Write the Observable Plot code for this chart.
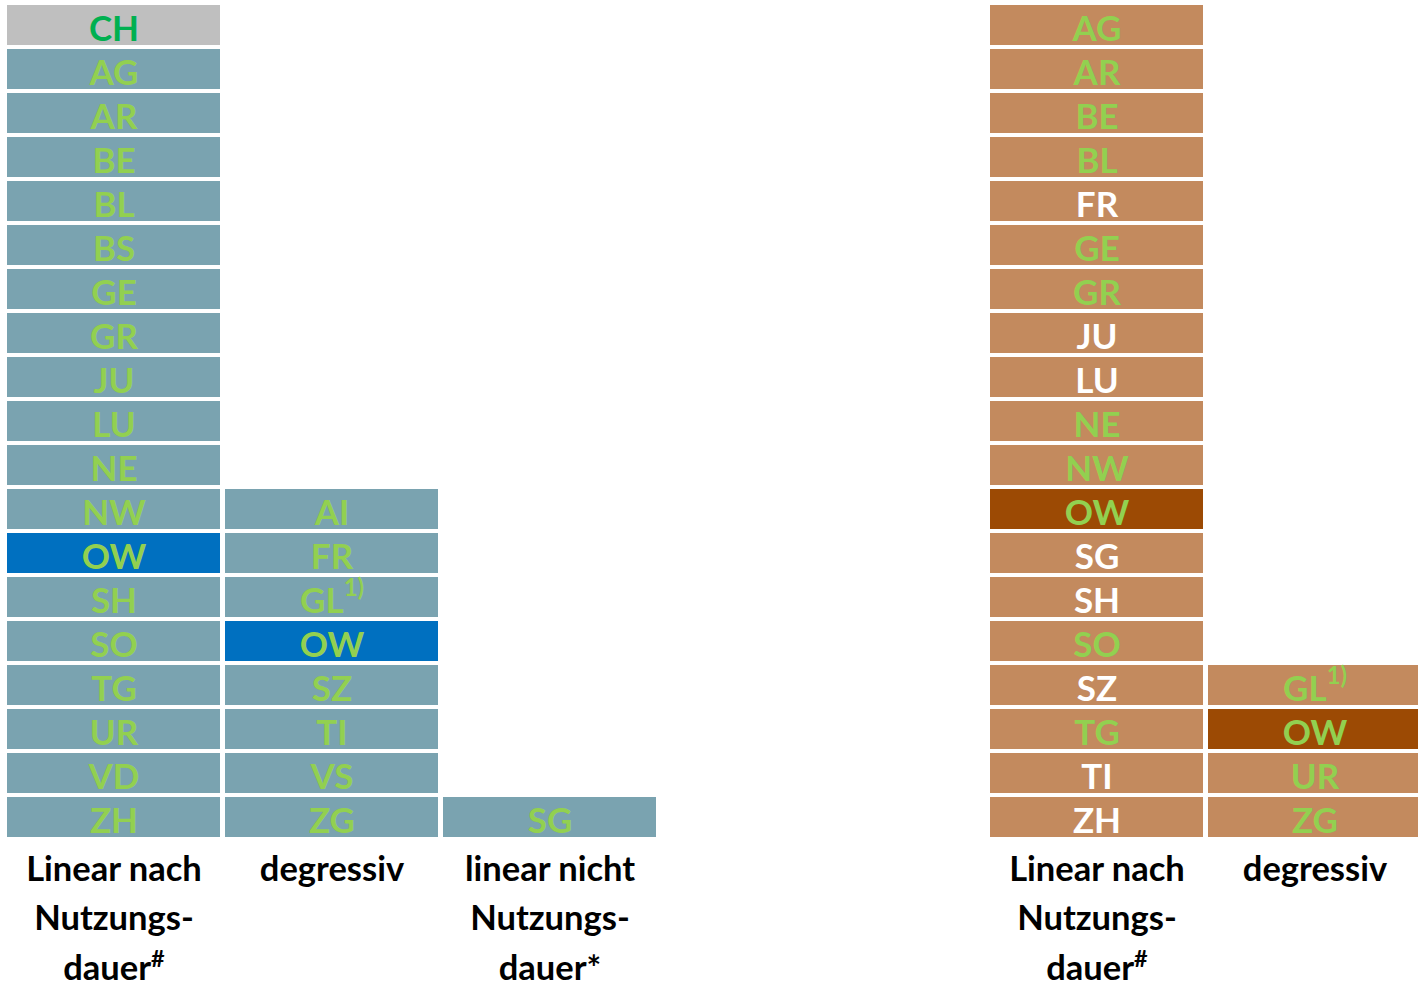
<!DOCTYPE html>
<html>
<head>
<meta charset="utf-8">
<script src="https://cdn.jsdelivr.net/npm/d3@7"></script>
<script src="https://cdn.jsdelivr.net/npm/@observablehq/plot@0.6"></script>
<style>
  html, body { margin: 0; padding: 0; background: #fff; overflow: hidden; }
  #wrap { position: relative; width: 1418px; height: 988px; overflow: hidden; }
  #left, #right { position: absolute; top: 0; }
  #left { left: 0; width: 664px; }
  #right { left: 983px; width: 438px; }
  svg { font-family: Lato, "Open Sans", sans-serif; max-width: none !important; }
</style>
</head>
<body>
<div id="wrap"><div id="left"></div><div id="right"></div></div>
<script>
// ---- Data ----
const leftColumns = ["Linear nach\nNutzungs-\ndauer^#", "degressiv", "linear nicht\nNutzungs-\ndauer*"];
const rightColumns = ["Linear nach\nNutzungs-\ndauer^#", "degressiv"];

const leftLinear = ["CH","AG","AR","BE","BL","BS","GE","GR","JU","LU","NE","NW","OW","SH","SO","TG","UR","VD","ZH"];
const leftDegressiv = ["AI","FR","GL^1)","OW","SZ","TI","VS","ZG"];
const leftLinearNicht = ["SG"];

const rightLinear = ["AG","AR","BE","BL","FR","GE","GR","JU","LU","NE","NW","OW","SG","SH","SO","SZ","TG","TI","ZH"];
const rightDegressiv = ["GL^1)","OW","UR","ZG"];

const rightWhiteText = ["FR","JU","LU","SG","SH","SZ","TI","ZH"];
const ownCanton = "OW";
const total = "CH";
const nRows = 19;

// ---- Colours ----
const C = {
  leftBase: "#7AA3B0", leftOwn: "#0070C0", totalBg: "#BFBFBF",
  rightBase: "#C38A5E", rightOwn: "#9C4A04",
  green: "#92D050", darkGreen: "#00B050", white: "#FFFFFF"
};

function buildCells(columns, lists, side) {
  const cells = [];
  lists.forEach((list, ci) => {
    list.forEach((label, i) => {
      const code = label.split("^")[0];
      let fill, textFill;
      if (side === "left") {
        fill = code === total ? C.totalBg : code === ownCanton ? C.leftOwn : C.leftBase;
        textFill = code === total ? C.darkGreen : C.green;
      } else {
        fill = code === ownCanton ? C.rightOwn : C.rightBase;
        textFill = (ci === 0 && rightWhiteText.includes(code)) ? C.white : C.green;
      }
      cells.push({col: columns[ci], row: nRows - list.length + i, label, fill, textFill});
    });
  });
  return cells;
}

function superscripts(svg) {
  svg.querySelectorAll("text, tspan").forEach(el => {
    for (const node of [...el.childNodes]) {
      if (node.nodeType === 3 && node.nodeValue.includes("^")) {
        const [base, sup] = node.nodeValue.split("^");
        node.nodeValue = base;
        const t = document.createElementNS("http://www.w3.org/2000/svg", "tspan");
        t.setAttribute("font-size", "0.68em");
        t.setAttribute("dy", base === "GL" ? "-0.72em" : "-0.55em");
        t.textContent = sup;
        el.insertBefore(t, node.nextSibling);
      }
    }
  });
  return svg;
}

function chart(columns, cells, width, marginRight) {
  const svg = Plot.plot({
    width, height: 988,
    marginLeft: 7, marginRight, marginTop: 5, marginBottom: 151,
    style: {fontFamily: "Lato, 'Open Sans', sans-serif", background: "transparent", overflow: "visible"},
    x: {domain: columns, paddingInner: 5 / 218, paddingOuter: 0, axis: null},
    y: {domain: d3.range(nRows), paddingInner: 4 / 44, paddingOuter: 0, axis: null},
    color: {type: "identity"},
    marks: [
      Plot.cell(cells, {x: "col", y: "row", fill: "fill"}),
      Plot.text(cells, {x: "col", y: "row", text: "label", fill: "textFill",
        fontSize: 35, fontWeight: "bold", dy: 4}),
      Plot.text(columns, {x: d => d, text: d => d, frameAnchor: "bottom", lineAnchor: "top",
        dy: 8, lineHeight: 1.44, fontSize: 34.5, fontWeight: "bold", fill: "#000"})
    ]
  });
  return superscripts(svg);
}

const leftCells = buildCells(leftColumns, [leftLinear, leftDegressiv, leftLinearNicht], "left");
const rightCells = buildCells(rightColumns, [rightLinear, rightDegressiv], "right");

document.getElementById("left").appendChild(chart(leftColumns, leftCells, 664, 8));
document.getElementById("right").appendChild(chart(rightColumns, rightCells, 438, 0));
</script>
</body>
</html>
